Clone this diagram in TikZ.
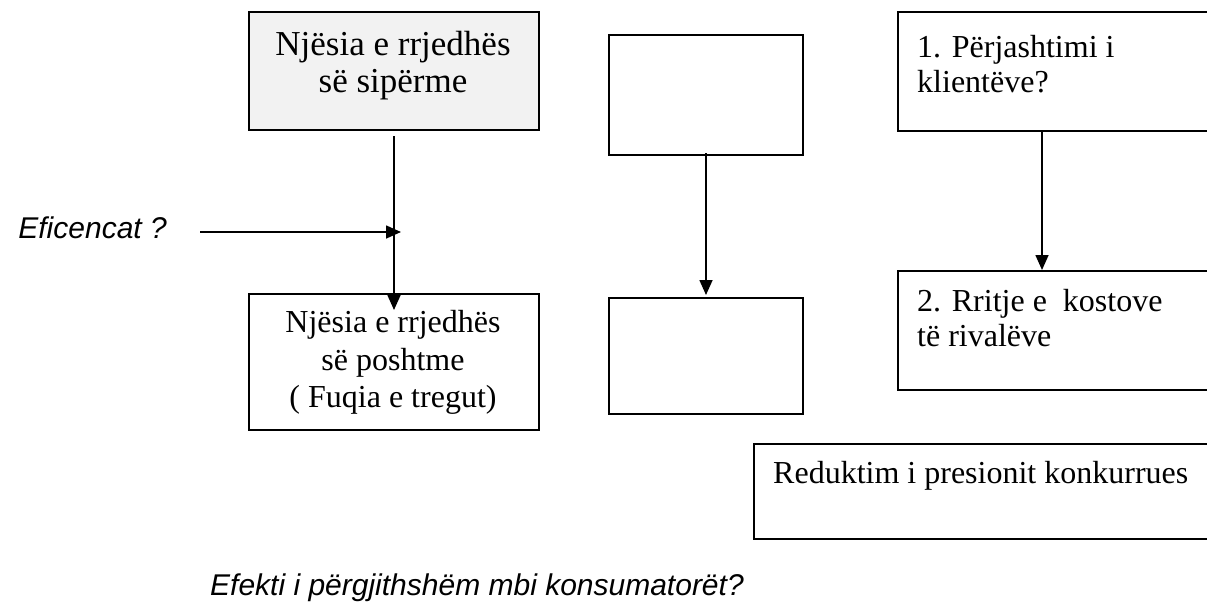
\documentclass[tikz,border=0pt]{standalone}
\usepackage{fontspec}
\setmainfont{Liberation Serif}
\setsansfont{Liberation Sans}
\usetikzlibrary{arrows.meta}
\definecolor{boxgray}{RGB}{242,242,242}
\begin{document}
\begin{tikzpicture}[x=1pt,y=-1pt,
  box/.style={draw=black, line width=2pt, inner sep=0pt, anchor=north west},
  conn/.style={line width=1.6pt, -{Triangle[length=15pt,width=13pt]}},
  bt/.style={inner sep=0pt, font=\fontsize{32}{38}\selectfont},
  bigt/.style={inner sep=0pt, font=\fontsize{35}{40}\selectfont},
  st/.style={inner sep=0pt, font=\sffamily\itshape\fontsize{30}{36}\selectfont}]
\useasboundingbox (0,0) rectangle (1207,614);
\clip (0,0) rectangle (1207,614);
% boxes
\node[box, fill=boxgray, minimum width=290pt, minimum height=118pt] (A) at (248,11) {};
\node[box, minimum width=194pt, minimum height=120pt] (B) at (608,34) {};
\node[box, minimum width=330pt, minimum height=119pt] (C) at (897,11) {};
\node[box, minimum width=290pt, minimum height=136pt] (D) at (248,293) {};
\node[box, minimum width=194pt, minimum height=116pt] (E) at (608,297) {};
\node[box, minimum width=330pt, minimum height=119pt] (F) at (897,270) {};
\node[box, minimum width=480pt, minimum height=95pt] (G) at (753,443) {};
% texts
\node[bigt, anchor=base] (a1) at (393,55) {Njësia e rrjedhës};
\node[bigt, anchor=base] (a2) at (393,92) {së sipërme};
\node[bt, anchor=base] (d1) at (393,332) {Njësia e rrjedhës};
\node[bt, anchor=base] (d2) at (393,370) {së poshtme};
\node[bt, anchor=base] (d3) at (393,407) {( Fuqia e tregut)};
\node[bt, anchor=base west] (c1) at (917,57) {1. Përjashtimi i};
\node[bt, anchor=base west] (c2) at (917,92) {klientëve?};
\node[bt, anchor=base west] (f1) at (917,311) {2. Rritje e~ kostove};
\node[bt, anchor=base west] (f2) at (917,346) {të rivalëve};
\node[bt, anchor=base west] (g1) at (773,483) {Reduktim i presionit konkurrues};
\node[st, anchor=base east] (eff) at (167,238) {Eficencat ?};
\node[st, anchor=base west] (tot) at (210,595) {Efekti i përgjithshëm mbi konsumatorët?};
% connectors
\coordinate (ef) at (200,232);
\coordinate (xc) at (1042,0);
\draw[conn] ([yshift=-5pt]A.south) -- ([yshift=-17pt]D.north);
\draw[conn] (ef) -- ([xshift=7pt]A.south |- ef);
\draw[conn] ([yshift=3pt]B.south) -- ([yshift=2pt]E.north);
\draw[conn] ([yshift=2pt]C.south -| xc) -- (F.north -| xc);
\end{tikzpicture}
\end{document}
